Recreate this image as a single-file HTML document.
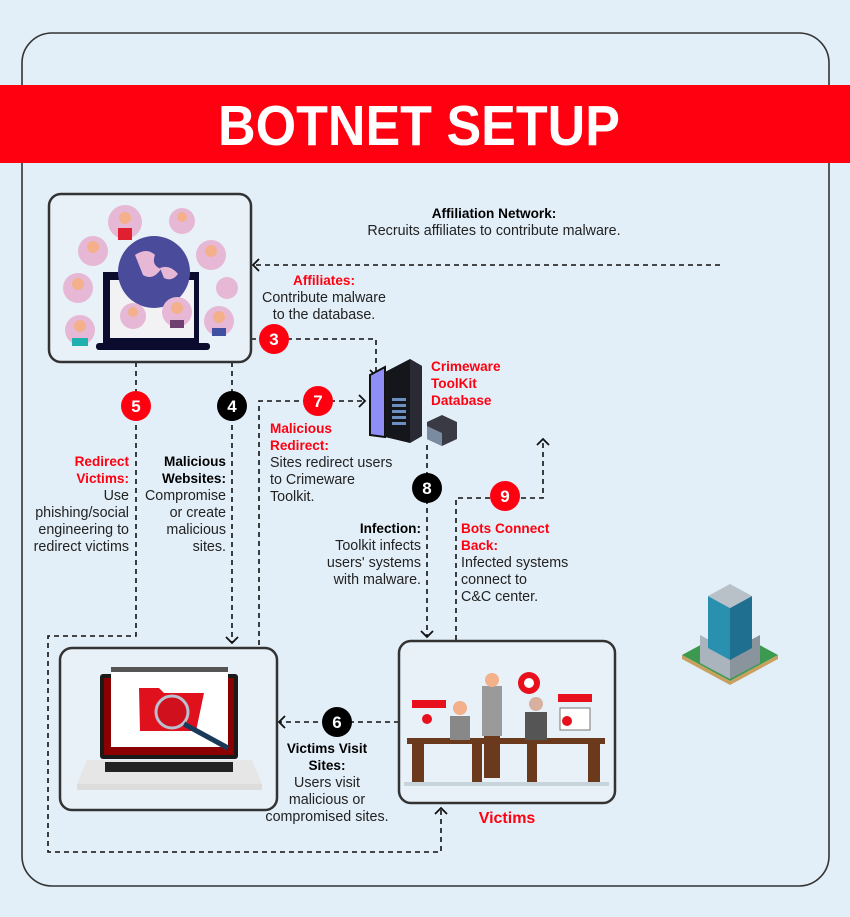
<!DOCTYPE html>
<html><head><meta charset="utf-8"><style>
html,body{margin:0;padding:0;background:#e3eff8;}
svg{display:block;font-family:"Liberation Sans",sans-serif;}
.t{font-size:14.3px;fill:#222;}
.b{font-size:13.6px;font-weight:bold;fill:#000;}
.r{font-size:13.6px;font-weight:bold;fill:#ff0010;}
.d{fill:none;stroke:#111;stroke-width:1.6;stroke-dasharray:5,4;}
.a{fill:none;stroke:#111;stroke-width:1.8;}
.n{font-size:17px;font-weight:bold;fill:#fff;text-anchor:middle;}
</style></head><body>
<svg width="850" height="917" viewBox="0 0 850 917">
<rect width="850" height="917" fill="#e3eff8"/>
<rect x="22" y="33" width="807" height="853" rx="30" fill="none" stroke="#333" stroke-width="1.6"/>
<rect x="0" y="85" width="850" height="78" fill="#ff0010"/>
<text x="218" y="145" textLength="402" lengthAdjust="spacingAndGlyphs" font-size="57" font-weight="bold" fill="#fff">BOTNET SETUP</text>

<!-- connectors -->
<path class="d" d="M720 265 H254"/><path class="a" d="M259 259 L253 265 L259 271"/>
<path class="d" d="M251 339 H376 V374"/><path class="a" d="M370 370 L376 376 L382 370"/>
<path class="d" d="M136 362 V636 H48 V852 H441 V810"/><path class="a" d="M435 814 L441 808 L447 814"/>
<path class="d" d="M232 362 V642"/><path class="a" d="M226 637 L232 643 L238 637"/>
<path class="d" d="M259 645 V401 H364"/><path class="a" d="M359 395 L365 401 L359 407"/>
<path class="d" d="M427 445 V636"/><path class="a" d="M421 631 L427 637 L433 631"/>
<path class="d" d="M456 640 V498 H543 V440"/><path class="a" d="M537 445 L543 439 L549 445"/>
<path class="d" d="M399 722 H280"/><path class="a" d="M285 716 L279 722 L285 728"/>

<!-- box 1 -->
<rect x="49" y="194" width="202" height="168" rx="12" fill="#e8f1f8" stroke="#333" stroke-width="2.5"/>
<rect x="103" y="272" width="96" height="72" fill="#0b0b2e"/>
<rect x="110" y="280" width="84" height="58" fill="#f2f2f5"/>
<rect x="96" y="343" width="114" height="7" rx="3" fill="#0b0b2e"/>
<circle cx="154" cy="272" r="36" fill="#4b4b9b"/>
<path d="M135 255 q12-8 20 0 q-4 10 6 14 q-8 12-18 6 z M160 268 q10-4 18 6 q-6 8-14 4z" fill="#e6b8d6"/>
<g fill="#e6b8d6">
<circle cx="125" cy="222" r="17"/><circle cx="182" cy="221" r="13"/><circle cx="93" cy="251" r="15"/><circle cx="211" cy="255" r="15"/>
<circle cx="78" cy="288" r="15"/><circle cx="227" cy="288" r="11"/><circle cx="133" cy="316" r="13"/><circle cx="177" cy="312" r="15"/>
<circle cx="80" cy="330" r="15"/><circle cx="219" cy="321" r="15"/></g>
<g fill="#f3b08a"><circle cx="125" cy="218" r="6"/><circle cx="182" cy="217" r="5"/><circle cx="93" cy="247" r="6"/><circle cx="211" cy="251" r="6"/><circle cx="78" cy="284" r="6"/><circle cx="133" cy="312" r="5"/><circle cx="177" cy="308" r="6"/><circle cx="80" cy="326" r="6"/><circle cx="219" cy="317" r="6"/></g>
<g fill="#e02030"><rect x="118" y="228" width="14" height="12"/><rect x="72" y="338" width="16" height="8" fill="#20b0b0"/><rect x="170" y="320" width="14" height="8" fill="#704070"/><rect x="212" y="328" width="14" height="8" fill="#4050a0"/></g>

<!-- server -->
<path d="M370 375 l15-8 v70 l-15 -2z" fill="#8e8ef5" stroke="#111" stroke-width="2"/>
<path d="M385 372 l25-13 l12 7 v70 l-12 7 l-25-6z" fill="#15151c"/>
<path d="M410 359 l12 7 v70 l-12 7z" fill="#2a2a34"/>
<g fill="#6a8fc0"><rect x="392" y="398" width="14" height="3"/><rect x="392" y="404" width="14" height="3"/><rect x="392" y="410" width="14" height="3"/><rect x="392" y="416" width="14" height="3"/><rect x="392" y="422" width="14" height="3"/></g>
<path d="M427 422 l15-7 l15 7 v17 l-15 7 l-15-7z" fill="#3a3a44"/>
<path d="M427 426 l15 7 v13 l-15-7z" fill="#7a8aa0"/>
<text class="r" x="431" y="371">Crimeware</text><text class="r" x="431" y="388">ToolKit</text><text class="r" x="431" y="405">Database</text>

<!-- laptop box -->
<rect x="60" y="648" width="217" height="162" rx="12" fill="#e8f1f8" stroke="#333" stroke-width="2.5"/>
<rect x="100" y="674" width="138" height="85" rx="3" fill="#1a1a1a"/>
<rect x="104" y="678" width="130" height="77" fill="#8a0000"/>
<rect x="111" y="667" width="117" height="80" fill="#fff"/>
<rect x="111" y="667" width="117" height="5" fill="#555"/>
<path d="M139 688 h20 l5 5 h40 l-8 38 h-56z" fill="#e0101c"/>
<circle cx="172" cy="712" r="16" fill="#d0101c" stroke="#b8c0d0" stroke-width="3"/>
<line x1="184" y1="724" x2="228" y2="748" stroke="#1a3a5a" stroke-width="5"/>
<path d="M87 760 h165 l10 24 h-185z" fill="#e6e6e6"/>
<rect x="105" y="762" width="128" height="10" fill="#222"/>
<rect x="77" y="784" width="185" height="6" fill="#dcdcdc"/>

<!-- victims box -->
<rect x="399" y="641" width="216" height="162" rx="12" fill="#e8f1f8" stroke="#333" stroke-width="2.5"/>
<rect x="407" y="738" width="198" height="6" fill="#6b3a1c"/>
<rect x="412" y="744" width="12" height="38" fill="#6b3a1c"/><rect x="472" y="744" width="10" height="38" fill="#6b3a1c"/>
<rect x="527" y="744" width="10" height="38" fill="#6b3a1c"/><rect x="588" y="744" width="12" height="38" fill="#6b3a1c"/>
<rect x="482" y="686" width="20" height="50" fill="#9a9a9a"/><rect x="484" y="736" width="16" height="42" fill="#6b3a1c"/>
<circle cx="492" cy="680" r="7" fill="#f3b08a"/>
<rect x="450" y="716" width="20" height="24" fill="#888"/><circle cx="460" cy="708" r="7" fill="#f3b08a"/>
<rect x="525" y="712" width="22" height="28" fill="#555"/><circle cx="536" cy="704" r="7" fill="#d8b0a0"/>
<rect x="560" y="708" width="30" height="22" fill="#fff" stroke="#777"/>
<rect x="412" y="700" width="34" height="8" fill="#e8101c"/><rect x="558" y="694" width="34" height="8" fill="#e8101c"/>
<circle cx="529" cy="683" r="11" fill="#e8101c"/><circle cx="529" cy="683" r="5" fill="#fff"/>
<circle cx="427" cy="719" r="5" fill="#e8101c"/><circle cx="567" cy="721" r="5" fill="#e8101c"/>
<rect x="404" y="782" width="205" height="4" fill="#c8d4dc"/>
<text x="507" y="823" text-anchor="middle" font-size="16" font-weight="bold" fill="#ff0010">Victims</text>

<!-- building -->
<path d="M682 655 l48 26 l48-26 l-48-26z" fill="#3c9a50"/>
<path d="M682 655 v4 l48 26 v-4z M778 655 v4 l-48 26 v-4z" fill="#c8a060"/>
<path d="M700 635 l30 16 v28 l-30-16z" fill="#aab4bc"/><path d="M760 635 l-30 16 v28 l30-16z" fill="#8a949c"/>
<path d="M708 596 l22 12 v52 l-22-12z" fill="#2a90b0"/><path d="M752 596 l-22 12 v52 l22-12z" fill="#1f6f90"/>
<path d="M708 596 l22-12 l22 12 l-22 12z" fill="#b8c0c8"/>

<!-- numbered circles -->
<circle cx="274" cy="339" r="15" fill="#ff0010"/><text class="n" x="274" y="345">3</text>
<circle cx="136" cy="406" r="15" fill="#ff0010"/><text class="n" x="136" y="412">5</text>
<circle cx="232" cy="406" r="15" fill="#000"/><text class="n" x="232" y="412">4</text>
<circle cx="318" cy="401" r="15" fill="#ff0010"/><text class="n" x="318" y="407">7</text>
<circle cx="427" cy="488" r="15" fill="#000"/><text class="n" x="427" y="494">8</text>
<circle cx="505" cy="496" r="15" fill="#ff0010"/><text class="n" x="505" y="502">9</text>
<circle cx="337" cy="722" r="15" fill="#000"/><text class="n" x="337" y="728">6</text>

<!-- labels -->
<text class="b" x="494" y="218" text-anchor="middle">Affiliation Network:</text>
<text class="t" x="494" y="235" text-anchor="middle">Recruits affiliates to contribute malware.</text>
<text class="r" x="324" y="285" text-anchor="middle">Affiliates:</text>
<text class="t" x="324" y="302" text-anchor="middle">Contribute malware</text>
<text class="t" x="324" y="319" text-anchor="middle">to the database.</text>
<g text-anchor="end">
<text class="r" x="129" y="466">Redirect</text><text class="r" x="129" y="483">Victims:</text>
<text class="t" x="129" y="500">Use</text><text class="t" x="129" y="517">phishing/social</text><text class="t" x="129" y="534">engineering to</text><text class="t" x="129" y="551">redirect victims</text>
<text class="b" x="226" y="466">Malicious</text><text class="b" x="226" y="483">Websites:</text>
<text class="t" x="226" y="500">Compromise</text><text class="t" x="226" y="517">or create</text><text class="t" x="226" y="534">malicious</text><text class="t" x="226" y="551">sites.</text>
<text class="b" x="421" y="533">Infection:</text><text class="t" x="421" y="550">Toolkit infects</text><text class="t" x="421" y="567">users' systems</text><text class="t" x="421" y="584">with malware.</text>
</g>
<text class="r" x="270" y="433">Malicious</text><text class="r" x="270" y="450">Redirect:</text>
<text class="t" x="270" y="467">Sites redirect users</text><text class="t" x="270" y="484">to Crimeware</text><text class="t" x="270" y="501">Toolkit.</text>
<text class="r" x="461" y="533">Bots Connect</text><text class="r" x="461" y="550">Back:</text>
<text class="t" x="461" y="567">Infected systems</text><text class="t" x="461" y="584">connect to</text><text class="t" x="461" y="601">C&amp;C center.</text>
<g text-anchor="middle">
<text class="b" x="327" y="753">Victims Visit</text><text class="b" x="327" y="770">Sites:</text>
<text class="t" x="327" y="787">Users visit</text><text class="t" x="327" y="804">malicious or</text><text class="t" x="327" y="821">compromised sites.</text>
</g>
</svg>
</body></html>
